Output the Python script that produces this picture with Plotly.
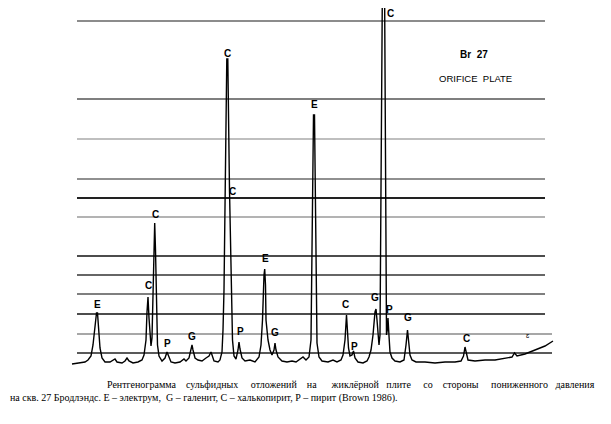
import plotly.graph_objects as go

# XRD pattern: channel (arbitrary 2-theta scale) vs. intensity (arbitrary units)
channel = [0, 8, 13, 16, 19, 21, 23, 24.5, 25.5, 27, 28, 30, 33, 38, 41, 43, 45, 50, 53, 55, 57, 61, 66, 70,
           72, 74, 75, 76, 77, 78, 79, 80, 81, 82, 82.7, 83.5, 84.5, 85.5, 87, 90, 93, 95, 97, 99, 103, 108,
           112, 114, 117, 119, 120, 121, 123, 126, 130, 134, 137, 139, 140.5, 142, 146, 148, 150, 151, 152,
           153, 154, 154.8, 155.8, 156.5, 157.5, 158.5, 159.5, 160.5, 162, 164, 166, 167, 168, 170, 173, 178,
           183, 187, 189, 190.5, 192, 192.7, 193.5, 194, 196, 198, 200, 202, 203, 204, 206, 210, 215, 220,
           224, 228, 231, 234, 237, 239, 240.5, 241.5, 242.5, 243.5, 245, 247, 250, 256, 261, 265, 269, 271,
           273, 274.5, 275.5, 276.5, 278, 280, 281.5, 283, 286, 291, 295, 297, 299, 301, 303, 304, 305, 306,
           307, 308, 309, 310, 310.7, 312.3, 313, 313.8, 314.5, 315.3, 316, 317, 318, 320, 323, 328, 332, 334,
           335.5, 337, 338, 340, 344, 353, 363, 373, 383, 389, 391.5, 393, 394.5, 396, 403, 413, 423, 433,
           440, 442.5, 445, 453, 463, 473, 481]
intensity = [1, 2, 3, 5, 9, 20, 40, 52, 52, 35, 17, 7, 3, 3, 5, 6, 3, 2, 4, 7, 4, 2, 3, 5,
             10, 25, 53, 68, 47, 30, 19, 27, 65, 125, 142, 115, 55, 20, 9, 4, 7, 13, 8, 3, 2, 3,
             6, 4, 7, 15, 20, 15, 7, 5, 4, 7, 9, 13, 8, 4, 3, 5, 13, 35, 75,
             145, 235, 306, 306, 235, 175, 125, 65, 25, 9, 6, 15, 23, 16, 7, 4, 5,
             3, 8, 20, 45, 90, 96, 80, 45, 25, 15, 10, 15, 22, 15, 8, 4, 3, 4,
             3, 6, 8, 5, 8, 25, 145, 250, 250, 145, 22, 8, 4, 3, 5, 3, 5, 10,
             25, 50, 35, 17, 9, 10, 14, 7, 3, 2, 4, 8, 15, 30, 53, 56, 45, 32,
             20, 30, 145, 305, 425, 425, 305, 115, 30, 35, 47, 29, 13, 7, 4, 3, 5, 20,
             35, 20, 10, 5, 3, 3, 2, 3, 3, 4, 9, 18, 10, 5, 4, 5, 5, 7,
             8, 12, 9, 11, 15, 19, 24]

# chart-paper grid levels (intensity units)
grid_levels = [12, 31, 51, 71, 90, 109, 148, 167, 186, 226, 266, 344]
grid_end = [480, 480, 473, 473, 473, 473, 473, 473, 473, 473, 473, 473]
grid_start = 5
grid_colors = ["#222222", "#8a8a8a", "#111111", "#555555", "#333333", "#111111",
               "#9a9a9a", "#222222", "#222222", "#aaaaaa", "#555555", "#666666"]
grid_widths = [1.3, 1.3, 1.3, 1.3, 1.3, 1.3, 1.5, 2.0, 1.2, 1.5, 1.6, 1.6]

# phase labels: E - electrum, G - galena, C - chalcopyrite, P - pyrite
label_text = ["E", "C", "C", "P", "G", "C", "C", "P", "E", "G", "E", "C", "P", "G", "C", "P", "G", "C"]
label_x = [25, 76, 83, 95, 120, 155, 160, 168, 193, 203, 242, 273, 282, 303, 318, 317, 336, 394]
label_y = [61, 80, 151, 22, 29, 312, 174, 34, 107, 33, 261, 61, 19, 68, 352, 56, 48, 27]

NB = "\u00a0"
caption_words_1 = ["Рентгенограмма", "сульфидных", "отложений", NB + "на", NB + "жиклёрной", "плите",
                   "со", "стороны", "пониженного", "давления"]
caption_gaps_1 = [4, 5, 3, 5, 3, 5, 4, 5, 3]
caption_1 = caption_words_1[0]
for w, g in zip(caption_words_1[1:], caption_gaps_1):
    caption_1 += " " + NB * (g - 1) + w
caption_2 = "на скв. 27 Бродлэндс. Е – электрум,  G – галенит, С – халькопирит, Р – пирит (Brown 1986)."

fig = go.Figure()
fig.add_trace(go.Scatter(x=channel, y=intensity, mode="lines",
                         line=dict(color="black", width=1.4), hoverinfo="skip", showlegend=False))

shapes = []
for lvl, xe, c, w in zip(grid_levels, grid_end, grid_colors, grid_widths):
    shapes.append(dict(type="line", xref="x", yref="y", x0=grid_start, x1=xe, y0=lvl, y1=lvl,
                       line=dict(color=c, width=w), layer="below"))

annotations = []
for t, x, y in zip(label_text, label_x, label_y):
    annotations.append(dict(x=x, y=y, xref="x", yref="y", text="<b>" + t + "</b>", showarrow=False,
                            font=dict(family="Liberation Sans", size=10, color="black")))
annotations.append(dict(x=402, y=311, xref="x", yref="y", text="<b>Br  27</b>", showarrow=False,
                        font=dict(family="Liberation Sans", size=10, color="black")))
annotations.append(dict(x=403, y=287, xref="x", yref="y", text="ORIFICE  PLATE", showarrow=False,
                        font=dict(family="Liberation Sans", size=9.5, color="black")))
annotations.append(dict(x=456, y=30, xref="x", yref="y", text="ɛ", showarrow=False,
                        font=dict(family="Liberation Sans", size=7, color="black")))
annotations.append(dict(x=0.161, y=0.096, xref="paper", yref="paper", xanchor="left", yanchor="middle",
                        text=caption_1, showarrow=False,
                        font=dict(family="Liberation Serif", size=10, color="black")))
annotations.append(dict(x=0.0, y=0.0625, xref="paper", yref="paper", xanchor="left", yanchor="middle",
                        text=caption_2, showarrow=False,
                        font=dict(family="Liberation Serif", size=10, color="black")))

fig.update_layout(
    width=603, height=416,
    margin=dict(l=0, r=0, t=0, b=0),
    paper_bgcolor="white", plot_bgcolor="white",
    xaxis=dict(range=[-64, 539], visible=False, fixedrange=True),
    yaxis=dict(range=[-59, 357], visible=False, fixedrange=True),
    shapes=shapes, annotations=annotations,
)
fig.write_html("out.html")
